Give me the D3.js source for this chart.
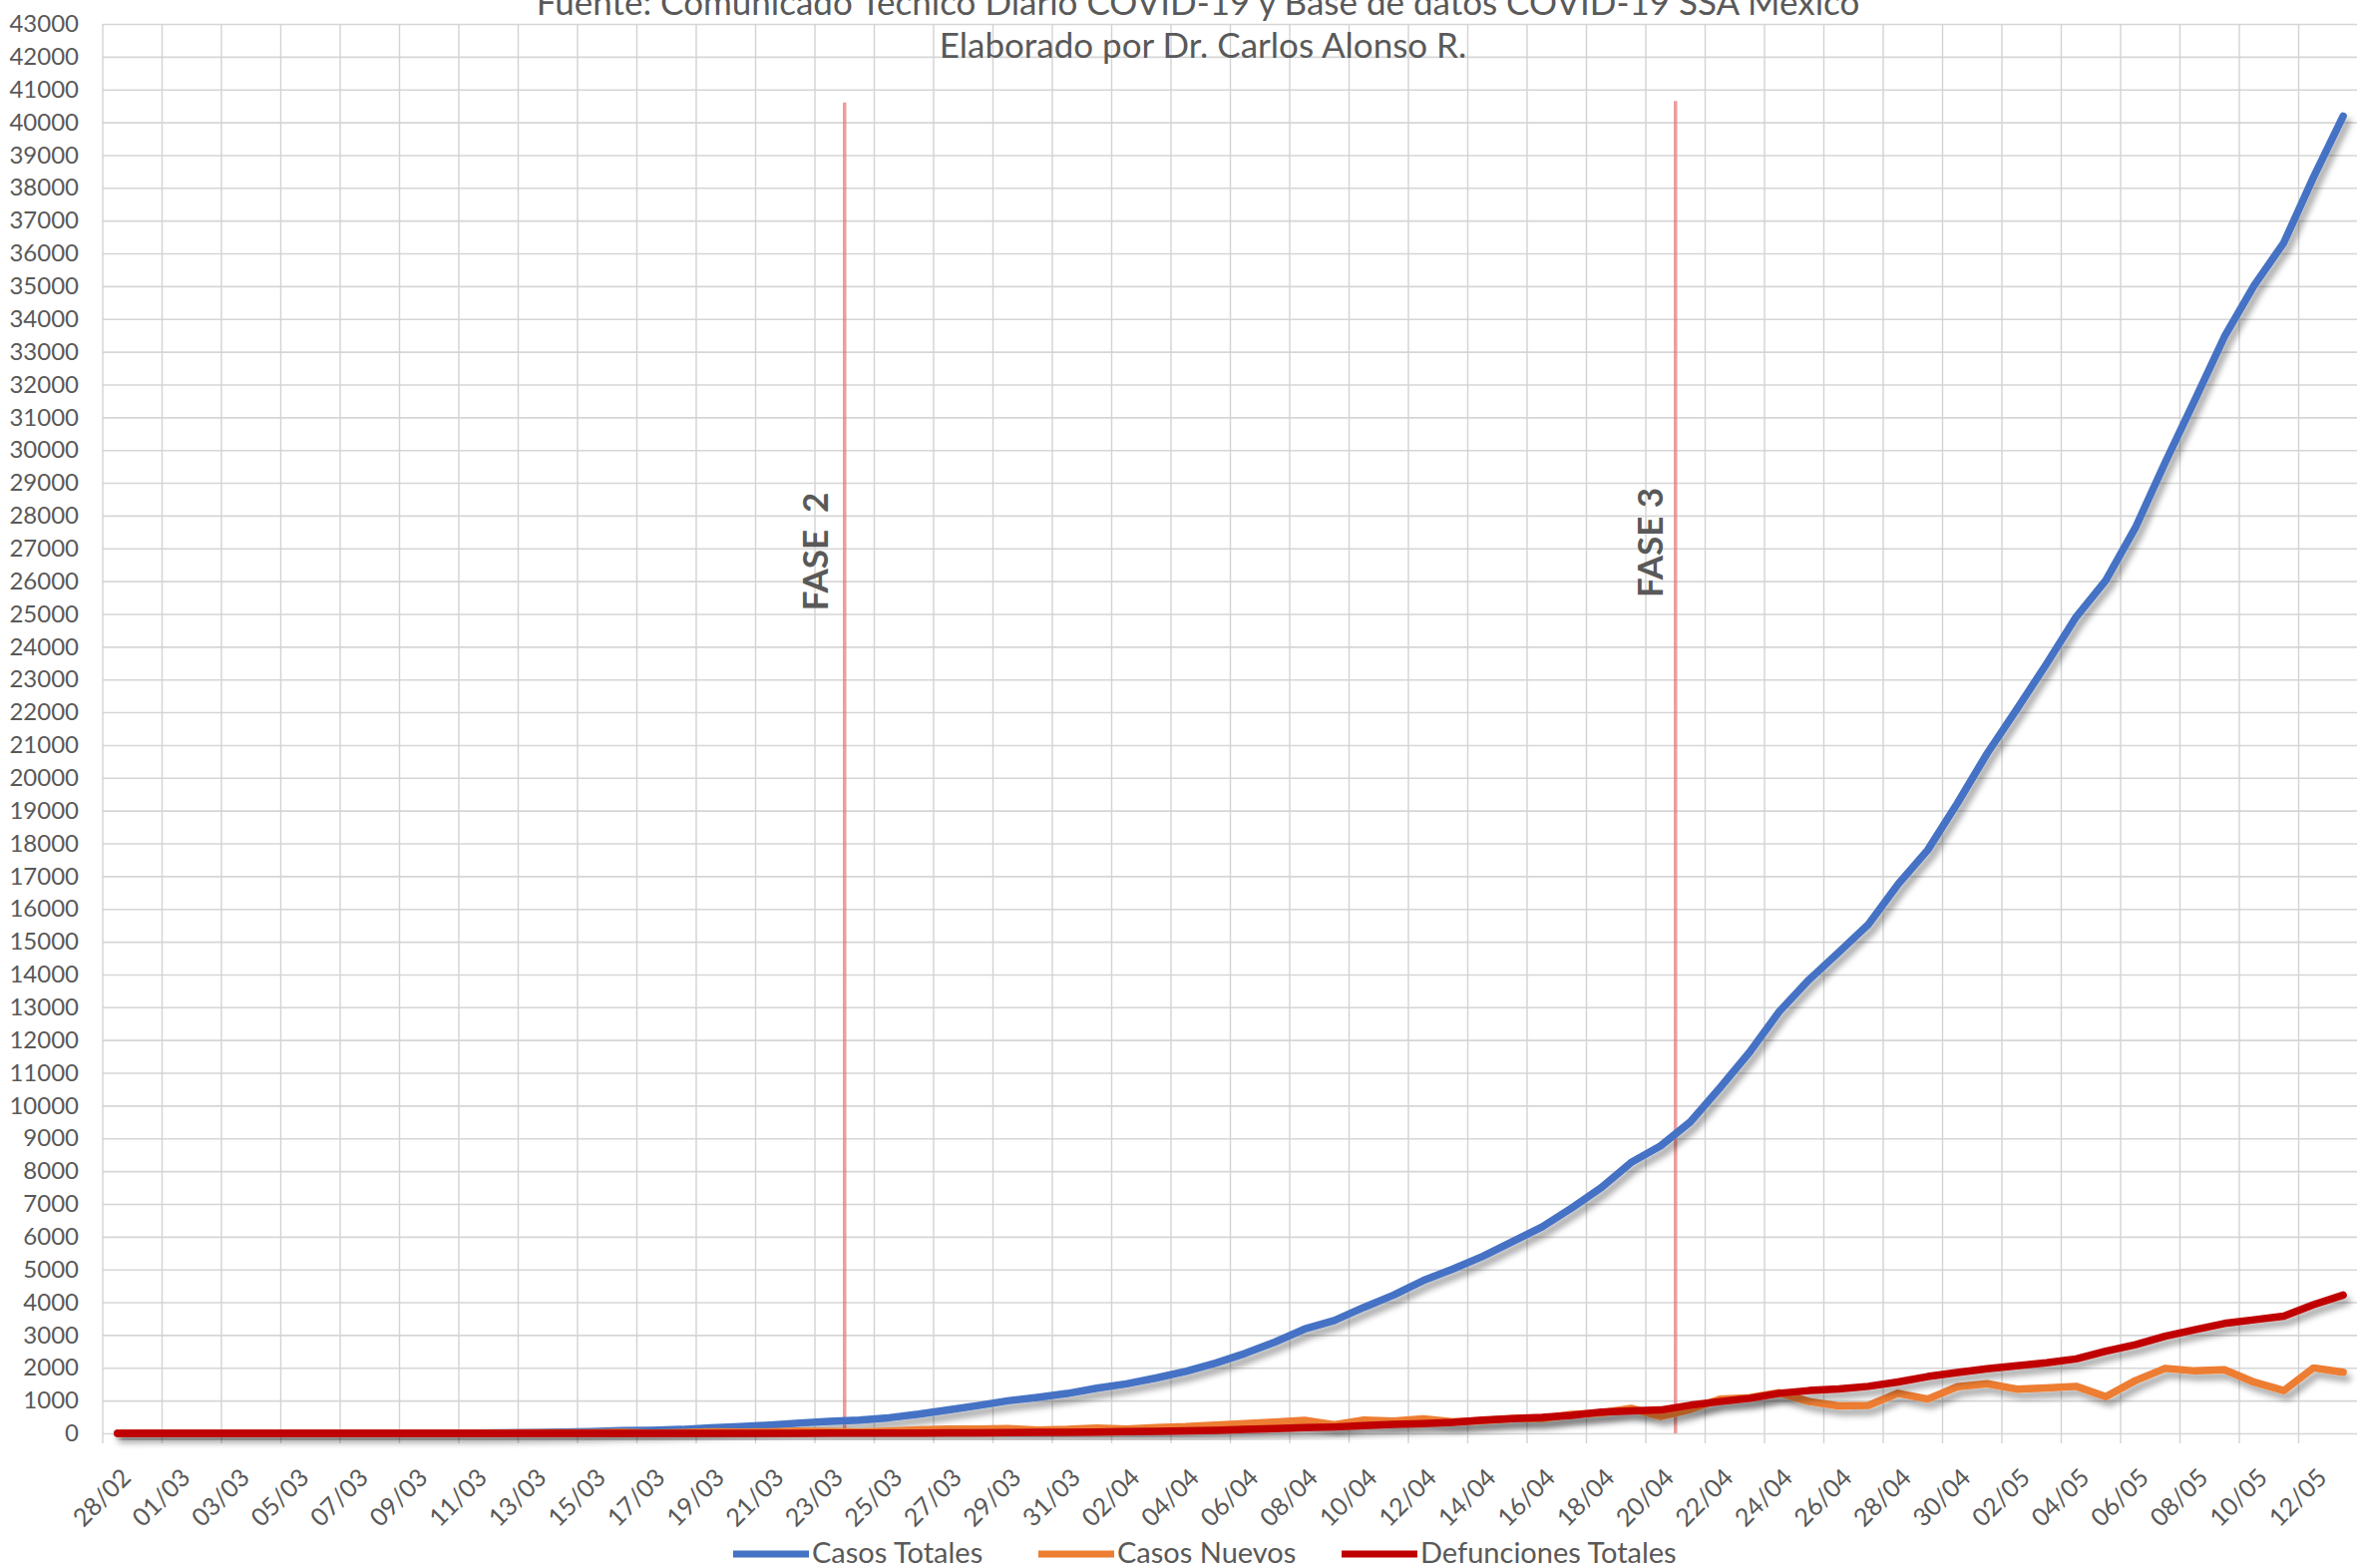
<!DOCTYPE html>
<html>
<head>
<meta charset="utf-8">
<script src="https://cdn.jsdelivr.net/npm/d3@7"></script>
<style>
  body { margin: 0; background: #fff; }
  svg { display: block; font-family: Lato, "Open Sans", sans-serif; }
</style>
</head>
<body>
<svg id="chart" width="2363" height="1572"></svg>
<script>
// fechas 28/02 .. 13/05 (2020)
const fechas = [
  "28/02","29/02",
  "01/03","02/03","03/03","04/03","05/03","06/03","07/03","08/03","09/03","10/03",
  "11/03","12/03","13/03","14/03","15/03","16/03","17/03","18/03","19/03","20/03",
  "21/03","22/03","23/03","24/03","25/03","26/03","27/03","28/03","29/03","30/03","31/03",
  "01/04","02/04","03/04","04/04","05/04","06/04","07/04","08/04","09/04","10/04",
  "11/04","12/04","13/04","14/04","15/04","16/04","17/04","18/04","19/04","20/04",
  "21/04","22/04","23/04","24/04","25/04","26/04","27/04","28/04","29/04","30/04",
  "01/05","02/05","03/05","04/05","05/05","06/05","07/05","08/05","09/05","10/05",
  "11/05","12/05","13/05"
];

const casosTotales = [
  2, 4,
  5, 5, 5, 5, 5, 6, 7, 7, 7, 7,
  8, 12, 26, 41, 53, 82, 93, 118, 164, 203,
  251, 316, 367, 405, 475, 585, 717, 848, 993, 1094, 1215,
  1378, 1510, 1688, 1890, 2143, 2439, 2785, 3181, 3441, 3844,
  4219, 4661, 5014, 5399, 5847, 6297, 6875, 7497, 8261, 8772,
  9501, 10544, 11633, 12872, 13842, 14677, 15529, 16752, 17799, 19224,
  20739, 22088, 23471, 24905, 26025, 27634, 29616, 31522, 33460, 35022,
  36327, 38324, 40186
];

const casosNuevos = [
  2, 2,
  1, 0, 0, 0, 0, 1, 1, 0, 0, 0,
  1, 4, 14, 15, 12, 29, 11, 25, 46, 39,
  48, 65, 51, 38, 70, 110, 132, 131, 145, 101, 121,
  163, 132, 178, 202, 253, 296, 346, 396, 260, 403,
  375, 442, 353, 385, 448, 450, 578, 622, 764, 511,
  729, 1043, 1089, 1239, 970, 835, 852, 1223, 1047, 1425,
  1515, 1349, 1383, 1434, 1120, 1609, 1982, 1906, 1938, 1562,
  1305, 1997, 1862
];

const defuncionesTotales = [
  0, 0,
  0, 0, 0, 0, 0, 0, 0, 0, 0, 0,
  0, 0, 0, 0, 0, 0, 0, 1, 2, 2,
  2, 2, 4, 5, 6, 8, 12, 16, 20, 28, 29,
  37, 50, 60, 79, 94, 125, 141, 174, 194, 233,
  273, 296, 332, 406, 449, 486, 546, 650, 686, 712,
  857, 970, 1069, 1221, 1305, 1351, 1434, 1569, 1732, 1859,
  1972, 2061, 2154, 2271, 2507, 2704, 2961, 3160, 3353, 3465,
  3573, 3926, 4220
];

const series = [
  { nombre: "Casos Totales", valores: casosTotales, color: "#4472C4" },
  { nombre: "Casos Nuevos", valores: casosNuevos, color: "#ED7D31" },
  { nombre: "Defunciones Totales", valores: defuncionesTotales, color: "#C00000" }
];

const fases = [
  { etiqueta: "FASE  2", fecha: "24/03", tope: 40600 },
  { etiqueta: "FASE 3", fecha: "21/04", tope: 40650 }
];

const yTicks = d3.range(0, 43001, 1000);
const titulo1 = "Fuente: Comunicado Técnico Diario COVID-19 y Base de datos COVID-19 SSA México";
const titulo2 = "Elaborado por Dr. Carlos Alonso R.";

const svg = d3.select("#chart");
const mLeft = 103, mRight = 2364, mTop = 24, mBottom = 1437;
const gris = "#595959";

const x = d3.scaleBand().domain(fechas).range([mLeft, mRight]);
const y = d3.scaleLinear().domain([0, 43000]).range([mBottom, mTop]);

const defs = svg.append("defs");
defs.append("filter")
  .attr("id", "sombra")
  .attr("x", "-5%").attr("y", "-5%").attr("width", "110%").attr("height", "110%")
  .append("feDropShadow")
  .attr("dx", 4).attr("dy", 6).attr("stdDeviation", 3)
  .attr("flood-color", "#000").attr("flood-opacity", 0.35);

// horizontal grid
svg.append("g")
  .attr("transform", `translate(${mLeft},0)`)
  .call(d3.axisLeft(y).tickValues(yTicks).tickSize(-(mRight - mLeft)).tickFormat(""))
  .call(g => g.select(".domain").remove())
  .call(g => g.selectAll("line").attr("stroke", "#d6d6d6").attr("stroke-width", 1.6));

// vertical grid, one line every two days
const vGrid = fechas.filter((d, i) => i % 2 === 0).map(d => x(d)).concat([mRight]);
svg.append("g")
  .selectAll("line")
  .data(vGrid)
  .join("line")
  .attr("x1", d => d).attr("x2", d => d)
  .attr("y1", mTop).attr("y2", mBottom + 10)
  .attr("stroke", "#d3d3d3")
  .attr("stroke-width", 1.4);

// y labels
svg.append("g")
  .attr("transform", `translate(${mLeft},0)`)
  .call(d3.axisLeft(y).tickValues(yTicks).tickSize(0).tickPadding(24).tickFormat(d3.format("d")))
  .call(g => g.select(".domain").remove())
  .call(g => g.selectAll("text")
    .attr("fill", gris)
    .style("font-size", "24px")
    .style("font-family", "Lato, sans-serif"));

// x labels
svg.append("g")
  .attr("transform", `translate(0,${mBottom})`)
  .call(d3.axisBottom(x).tickValues(fechas.filter((d, i) => i % 2 === 0)).tickSize(0))
  .call(g => g.select(".domain").remove())
  .call(g => g.selectAll("text")
    .attr("fill", gris)
    .attr("y", 0).attr("dy", 0)
    .attr("text-anchor", "end")
    .attr("transform", "translate(15,46) rotate(-45)")
    .style("font-size", "25px")
    .style("font-family", "Lato, sans-serif"));

// fase lines
const faseLabelY = [553, 544];
const faseLabelDx = [-17, -13];
const fg = svg.append("g");
fg.selectAll("line")
  .data(fases)
  .join("line")
  .attr("x1", d => x(d.fecha)).attr("x2", d => x(d.fecha))
  .attr("y1", d => y(d.tope)).attr("y2", y(0))
  .attr("stroke", "#E57373")
  .attr("stroke-opacity", 0.7)
  .attr("stroke-width", 3.5);

fg.selectAll("text")
  .data(fases)
  .join("text")
  .attr("transform", (d, i) => `translate(${x(d.fecha) + faseLabelDx[i]},${faseLabelY[i]}) rotate(-90)`)
  .attr("text-anchor", "middle")
  .attr("fill", gris)
  .style("font-weight", "bold")
  .style("font-size", "35px")
  .style("white-space", "pre")
  .text(d => d.etiqueta);

// series
const linea = d3.line()
  .x((v, i) => x(fechas[i]) + x.bandwidth() / 2)
  .y(v => y(v));

svg.append("g")
  .selectAll("path")
  .data(series)
  .join("path")
  .attr("d", d => linea(d.valores))
  .attr("fill", "none")
  .attr("stroke", d => d.color)
  .attr("stroke-width", 7.5)
  .attr("stroke-linejoin", "round")
  .attr("stroke-linecap", "round")
  .attr("filter", "url(#sombra)");

// titles
svg.append("text")
  .attr("x", 1201).attr("y", 15)
  .attr("text-anchor", "middle")
  .attr("fill", gris)
  .style("font-size", "35px")
  .text(titulo1);
svg.append("text")
  .attr("x", 1206).attr("y", 58)
  .attr("text-anchor", "middle")
  .attr("fill", gris)
  .style("font-size", "35px")
  .text(titulo2);

// legend
const legX = [735, 1041, 1345];
const leg = svg.append("g")
  .selectAll("g")
  .data(series)
  .join("g")
  .attr("transform", (d, i) => `translate(${legX[i]},1558)`);
leg.append("line")
  .attr("x1", 0).attr("x2", 76)
  .attr("stroke", d => d.color)
  .attr("stroke-width", 7);
leg.append("text")
  .attr("x", 79).attr("y", 9)
  .attr("fill", gris)
  .style("font-size", "29px")
  .text(d => d.nombre);
</script>
</body>
</html>
